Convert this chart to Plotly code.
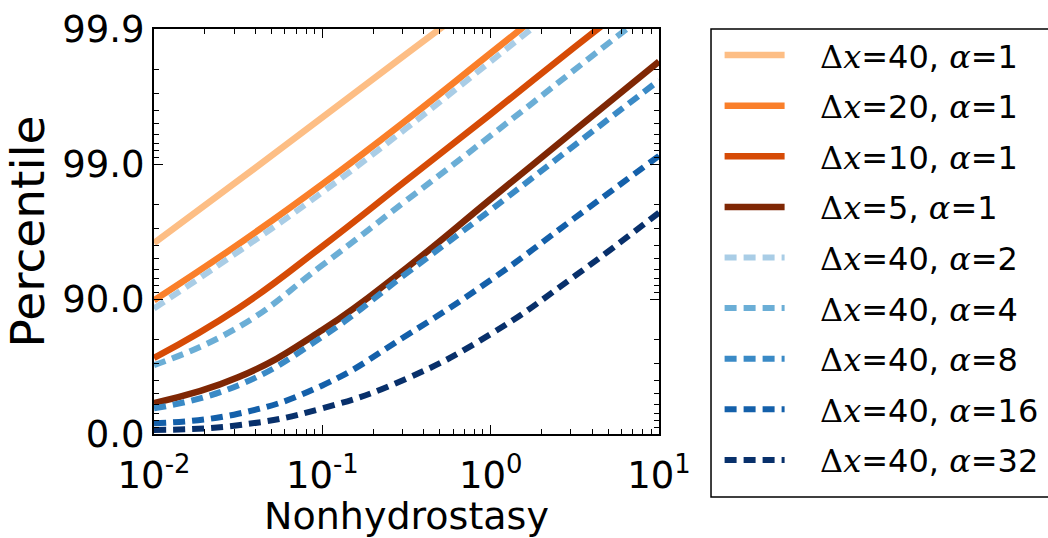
import numpy as np
import plotly.graph_objects as go

# Nonhydrostasy sample points (x axis, log scale, half-decade steps)
nonhydrostasy = [0.01, 0.0316, 0.1, 0.316, 1, 3.16, 10]

# Percentile reached at each nonhydrostasy value, one list per configuration
pct_dx40_a1 = [96.15, 98.67, 99.548, 99.847, 99.948]
pct_dx20_a1 = [89.77, 96.06, 98.59, 99.527, 99.849, 99.952]
pct_dx10_a1 = [72.65, 88.25, 95.93, 98.68, 99.573, 99.864, 99.956]
pct_dx5_a1 = [41.12, 61.98, 83.02, 94.11, 98.18, 99.438, 99.826]
pct_dx40_a2 = [88.25, 95.53, 98.38, 99.457, 99.826, 99.945]
pct_dx40_a4 = [69.10, 83.78, 94.38, 98.14, 99.383, 99.80, 99.935]
pct_dx40_a8 = [35.43, 56.35, 80.95, 93.54, 97.81, 99.276, 99.760]
pct_dx40_a16 = [16.82, 29.21, 56.35, 81.38, 92.76, 97.49, 99.13]
pct_dx40_a32 = [6.67, 13.90, 35.43, 61.10, 81.80, 93.24, 97.71]

dx_values = [40, 20, 10, 5, 40, 40, 40, 40, 40]
alpha_values = [1, 1, 1, 1, 2, 4, 8, 16, 32]

y_tick_labels = ["0.0", "90.0", "99.0", "99.9"]
x_tick_labels = ["10<sup>-2</sup>", "10<sup>-1</sup>", "10<sup>0</sup>", "10<sup>1</sup>"]

series = [pct_dx40_a1, pct_dx20_a1, pct_dx10_a1, pct_dx5_a1,
          pct_dx40_a2, pct_dx40_a4, pct_dx40_a8, pct_dx40_a16, pct_dx40_a32]
colors = ["#fdbe85", "#fa7f2a", "#d64b06", "#7f2704",
          "#a9cde6", "#6baed6", "#3a8ac6", "#1460aa", "#08306b"]
dashed = [False, False, False, False, True, True, True, True, True]


def exceed_decades(p):
    """Percentile -> number of decades of exceedance probability, -log10(1 - p/100)."""
    return -np.log10(1.0 - np.asarray(p, dtype=float) / 100.0)


def math_label(dx, a):
    serif = "font-family:DejaVu Serif"
    pad = "\u00a0\u00a0\u00a0"
    return (f"{pad}<span style=\"{serif}\">Δ<i>x</i></span>={dx}, "
            f"<span style=\"{serif}\"><i>α</i></span>={a}")


fig = go.Figure()
for i, (vals, col, dsh) in enumerate(zip(series, colors, dashed)):
    xs = nonhydrostasy[:len(vals)]
    fig.add_trace(go.Scatter(
        x=xs, y=exceed_decades(vals), mode="lines",
        line=dict(color=col, width=6 if dsh else 6.5,
                  dash="12px,7px" if dsh else "solid", shape="spline", smoothing=1.3),
        name=math_label(dx_values[i], alpha_values[i]),
        legendgroup=f"g{i}",
    ))

# minor ticks for the exceedance scale: 1 - p = k * 10^-(n+1), k = 2..9
y_minor = [n + (-np.log10(k / 10.0)) for n in range(3) for k in range(2, 10)]
x_minor = [k * 10.0 ** e for e in range(-2, 1) for k in range(2, 10)]

axis_font = dict(family="DejaVu Sans", size=37, color="black")
fig.update_layout(
    width=1048, height=538,
    margin=dict(l=154, r=389, t=29, b=104, autoexpand=False),
    paper_bgcolor="white", plot_bgcolor="white",
    font=dict(family="DejaVu Sans", color="black"),
    showlegend=True,
    legend=dict(x=1.12, y=1.003, xanchor="left", yanchor="top",
                font=dict(family="DejaVu Sans", size=32, color="black"),
                bgcolor="rgba(0,0,0,0)", borderwidth=0, maxheight=538,
                tracegroupgap=6, itemwidth=60),
    shapes=[dict(type="rect", xref="paper", yref="paper",
                 x0=1.103, x1=1.80, y0=-0.1556, y1=1.0,
                 line=dict(color="black", width=1.5), fillcolor="rgba(0,0,0,0)")],
)
fig.update_xaxes(
    type="log", range=[-2, 1],
    tickvals=[0.01, 0.1, 1, 10], ticktext=x_tick_labels,
    tickfont=axis_font, ticks="inside", ticklen=9, tickwidth=1, tickcolor="black",
    ticklabelstandoff=8,
    minor=dict(tickvals=x_minor, ticks="inside", ticklen=5, tickwidth=1, tickcolor="black"),
    showline=True, linecolor="black", linewidth=2, mirror="allticks",
    showgrid=False, zeroline=False,
    title=dict(text="Nonhydrostasy", font=dict(family="DejaVu Sans", size=38), standoff=9),
)
fig.update_yaxes(
    range=[0, 3],
    tickvals=[0, 1, 2, 3], ticktext=y_tick_labels,
    tickfont=axis_font, ticks="inside", ticklen=9, tickwidth=1, tickcolor="black",
    minor=dict(tickvals=y_minor, ticks="inside", ticklen=5, tickwidth=1, tickcolor="black"),
    showline=True, linecolor="black", linewidth=2, mirror="allticks",
    showgrid=False, zeroline=False,
    title=dict(text="Percentile", font=dict(family="DejaVu Sans", size=47), standoff=4),
)

fig.write_html("out.html")
